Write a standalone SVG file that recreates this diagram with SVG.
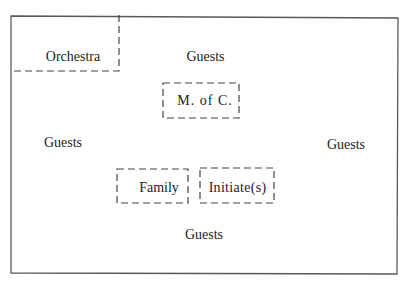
<svg xmlns="http://www.w3.org/2000/svg" width="406" height="286" viewBox="0 0 406 286">
  <style>
    .frame { fill: none; stroke: #5a5a5a; stroke-width: 1.3; }
    .zone { fill: none; stroke: #444; stroke-width: 1.2; stroke-dasharray: 7 4; }
    .lbl { font-family: "Liberation Serif", "Times New Roman", serif; font-size: 14px; fill: #222; text-anchor: middle; }
  </style>
  <rect width="406" height="286" fill="#fff"/>
  <!-- hall outline -->
  <polygon class="frame" points="11,16 398,18 397,274 11,273"/>
  <g id="connectors"></g>
  <g id="orchestra">
    <polyline class="zone" points="119,15 119,71 11,71"/>
    <text class="lbl" x="73" y="61">Orchestra</text>
  </g>
  <g id="guests-top"><text class="lbl" x="205.5" y="61">Guests</text></g>
  <g id="guests-left"><text class="lbl" x="63" y="147">Guests</text></g>
  <g id="guests-right"><text class="lbl" x="346" y="149">Guests</text></g>
  <g id="guests-bottom"><text class="lbl" x="204" y="239">Guests</text></g>
  <g id="mc">
    <rect class="zone" x="163" y="83" width="76" height="35"/>
    <text class="lbl" x="205" y="105" letter-spacing="1">M. of C.</text>
  </g>
  <g id="family">
    <rect class="zone" x="117" y="169" width="71" height="34"/>
    <text class="lbl" x="159" y="192">Family</text>
  </g>
  <g id="initiate">
    <rect class="zone" x="200" y="168" width="74" height="35"/>
    <text class="lbl" x="237.5" y="192" letter-spacing="0.3">Initiate(s)</text>
  </g>
</svg>
